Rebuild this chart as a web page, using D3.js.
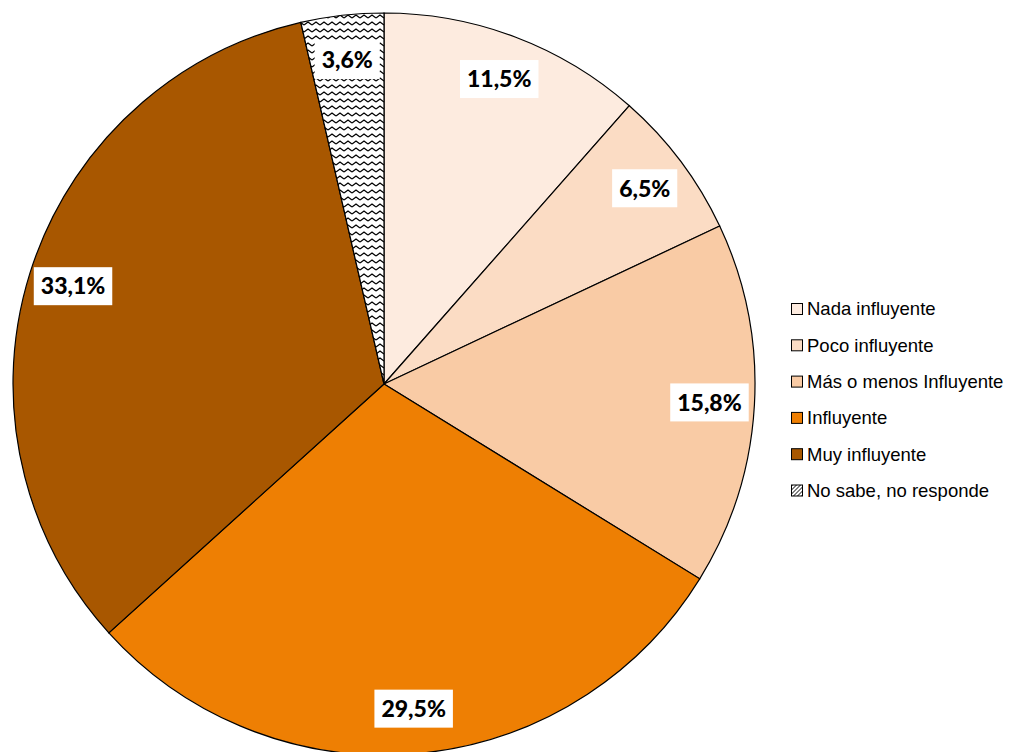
<!DOCTYPE html>
<html>
<head>
<meta charset="utf-8">
<script src="https://cdn.jsdelivr.net/npm/d3@7"></script>
<style>
  body { margin: 0; background: #fff; }
</style>
</head>
<body>
<div id="chart"></div>
<script>
const width = 1023;
const height = 752;

// data
const categories = ["Nada influyente", "Poco influyente", "Más o menos Influyente", "Influyente", "Muy influyente", "No sabe, no responde"];
const values = [11.5, 6.5, 15.8, 29.5, 33.1, 3.6];
const colors = ["#FDEBDF", "#FBDCC4", "#F9CBA5", "#EE7F03", "#A85700", "url(#zigzag)"];

const cx = 384, cy = 384, radius = 371;

const svg = d3.select("#chart")
  .append("svg")
  .attr("width", width)
  .attr("height", height);

// zigzag pattern for "No sabe"
const defs = svg.append("defs");
const pat = defs.append("pattern")
  .attr("id", "zigzag")
  .attr("patternUnits", "userSpaceOnUse")
  .attr("width", 8)
  .attr("height", 7);
pat.append("rect").attr("width", 8).attr("height", 7).attr("fill", "#fff");
pat.append("path")
  .attr("d", "M0,5 L4,2 L8,5")
  .attr("fill", "none")
  .attr("stroke", "#000")
  .attr("stroke-width", 1.3);

const legendPat = defs.append("pattern")
  .attr("id", "zigzagSmall")
  .attr("patternUnits", "userSpaceOnUse")
  .attr("width", 4)
  .attr("height", 4);
legendPat.append("rect").attr("width", 4).attr("height", 4).attr("fill", "#fff");
legendPat.append("path")
  .attr("d", "M0,4 L4,0")
  .attr("stroke", "#000")
  .attr("stroke-width", 1);

const data = categories.map((c, i) => ({ category: c, value: values[i], color: colors[i] }));

const pie = d3.pie().value((d) => d.value).sort(null);
const arc = d3.arc().innerRadius(0).outerRadius(radius);
const labelArc = d3.arc().innerRadius(326).outerRadius(326);

const g = svg.append("g").attr("transform", `translate(${cx},${cy})`);
const arcs = pie(data);

g.selectAll("path")
  .data(arcs)
  .enter()
  .append("path")
  .attr("d", arc)
  .attr("fill", (d) => d.data.color)
  .attr("stroke", "#000")
  .attr("stroke-width", 1.2);

// labels with white boxes
const labels = g.selectAll(".lbl")
  .data(arcs)
  .enter()
  .append("g")
  .attr("class", "lbl")
  .attr("transform", (d) => `translate(${labelArc.centroid(d)})`);

labels.append("text")
  .attr("text-anchor", "middle")
  .attr("dy", "0.36em")
  .style("font-family", "Lato, 'Open Sans', sans-serif")
  .style("font-weight", "900")
  .style("font-size", "23px")
  .text((d) => d.data.value.toFixed(1).replace(".", ",") + "%")
  .each(function () {
    const b = this.getBBox();
    d3.select(this.parentNode)
      .insert("rect", "text")
      .attr("x", b.x - 7)
      .attr("y", -19)
      .attr("width", b.width + 14)
      .attr("height", 38)
      .attr("fill", "#fff");
  });

// legend
const legend = svg.append("g")
  .selectAll(".legend")
  .data(data)
  .enter()
  .append("g")
  .attr("class", "legend")
  .attr("transform", (d, i) => `translate(791, ${309 + i * 36.3})`);

legend.append("rect")
  .attr("x", 0.5)
  .attr("y", -5.5)
  .attr("width", 11)
  .attr("height", 11)
  .attr("fill", (d, i) => (i === 5 ? "url(#zigzagSmall)" : d.color))
  .attr("stroke", "#000")
  .attr("stroke-width", 1);

legend.append("text")
  .attr("x", 16)
  .attr("dy", "0.35em")
  .style("font-family", "'Liberation Sans', Arial, sans-serif")
  .style("font-size", "18.5px")
  .text((d) => d.category);
</script>
</body>
</html>
